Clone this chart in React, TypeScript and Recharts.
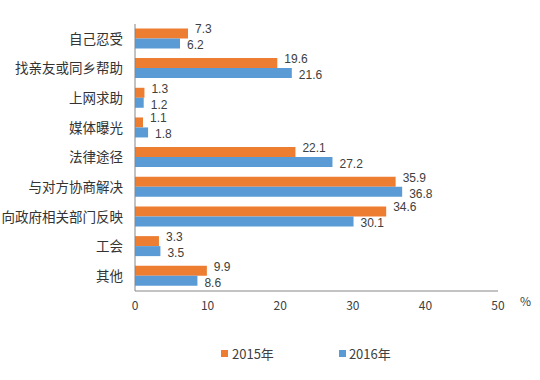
import React from 'react';
import { BarChart, Bar, XAxis, YAxis, LabelList, Label, Legend } from 'recharts';

const categories = ['自己忍受', '找亲友或同乡帮助', '上网求助', '媒体曝光', '法律途径', '与对方协商解决', '向政府相关部门反映', '工会', '其他'];
const values2015 = [7.3, 19.6, 1.3, 1.1, 22.1, 35.9, 34.6, 3.3, 9.9];
const values2016 = [6.2, 21.6, 1.2, 1.8, 27.2, 36.8, 30.1, 3.5, 8.6];
const xTicks = [0, 10, 20, 30, 40, 50];
const seriesNames = ['2015年', '2016年'];

const ORANGE = '#ED7D31';
const BLUE = '#5B9BD5';
const TEXT = '#404040';
const FONT = '"Noto Sans CJK SC", "Noto Sans", sans-serif';
const NUM_FONT = '"Liberation Sans", "DejaVu Sans", sans-serif';

const data = categories.map((c, i) => ({ name: c, a: values2015[i], b: values2016[i] }));

const makeLabel = (dy: number) => (props: any) => {
  const { x, y, width, height, value } = props;
  return (
    <text x={x + width + 7} y={y + height / 2 + dy} fill={TEXT} fontSize={12} fontFamily={NUM_FONT} dominantBaseline="central" textAnchor="start">
      {value}
    </text>
  );
};

const LegendContent = () => (
  <div style={{ display: 'flex', alignItems: 'center', fontFamily: FONT, fontSize: 13, color: TEXT }}>
    <span style={{ display: 'inline-block', width: 7, height: 7, background: ORANGE, marginRight: 4 }} />
    <span style={{ marginRight: 65 }}>{seriesNames[0]}</span>
    <span style={{ display: 'inline-block', width: 7, height: 7, background: BLUE, marginRight: 3 }} />
    <span>{seriesNames[1]}</span>
  </div>
);

export default function App() {
  return (
    <div style={{ position: 'absolute', left: 0, top: 0, background: '#fff' }}>
      <BarChart
        width={540}
        height={380}
        data={data}
        layout="vertical"
        margin={{ top: 24, right: 42, left: 0, bottom: 40 }}
        barCategoryGap="15%"
        barGap={0}
      >
        <XAxis
          type="number"
          domain={[0, 50]}
          ticks={xTicks}
          height={30}
          tickLine={false}
          tickSize={0}
          tickMargin={10}
          axisLine={{ stroke: '#868686' }}
          tick={{ fill: TEXT, fontSize: 12, fontFamily: FONT }}
        >
          <Label value="%" position="right" offset={22} dy={-4} fill={TEXT} fontSize={12} fontFamily={FONT} />
        </XAxis>
        <YAxis
          type="category"
          dataKey="name"
          width={135}
          tickLine={false}
          tickSize={0}
          tickMargin={12}
          axisLine={{ stroke: '#868686' }}
          tick={{ fill: '#333', fontSize: 13.5, fontFamily: FONT }}
          interval={0}
        />
        <Legend
          content={<LegendContent />}
          wrapperStyle={{ position: 'absolute', left: 221, top: 344, width: 'auto' }}
        />
        <Bar dataKey="a" name={seriesNames[0]} fill={ORANGE} isAnimationActive={false}>
          <LabelList dataKey="a" content={makeLabel(-4)} />
        </Bar>
        <Bar dataKey="b" name={seriesNames[1]} fill={BLUE} isAnimationActive={false}>
          <LabelList dataKey="b" content={makeLabel(2)} />
        </Bar>
      </BarChart>
    </div>
  );
}
